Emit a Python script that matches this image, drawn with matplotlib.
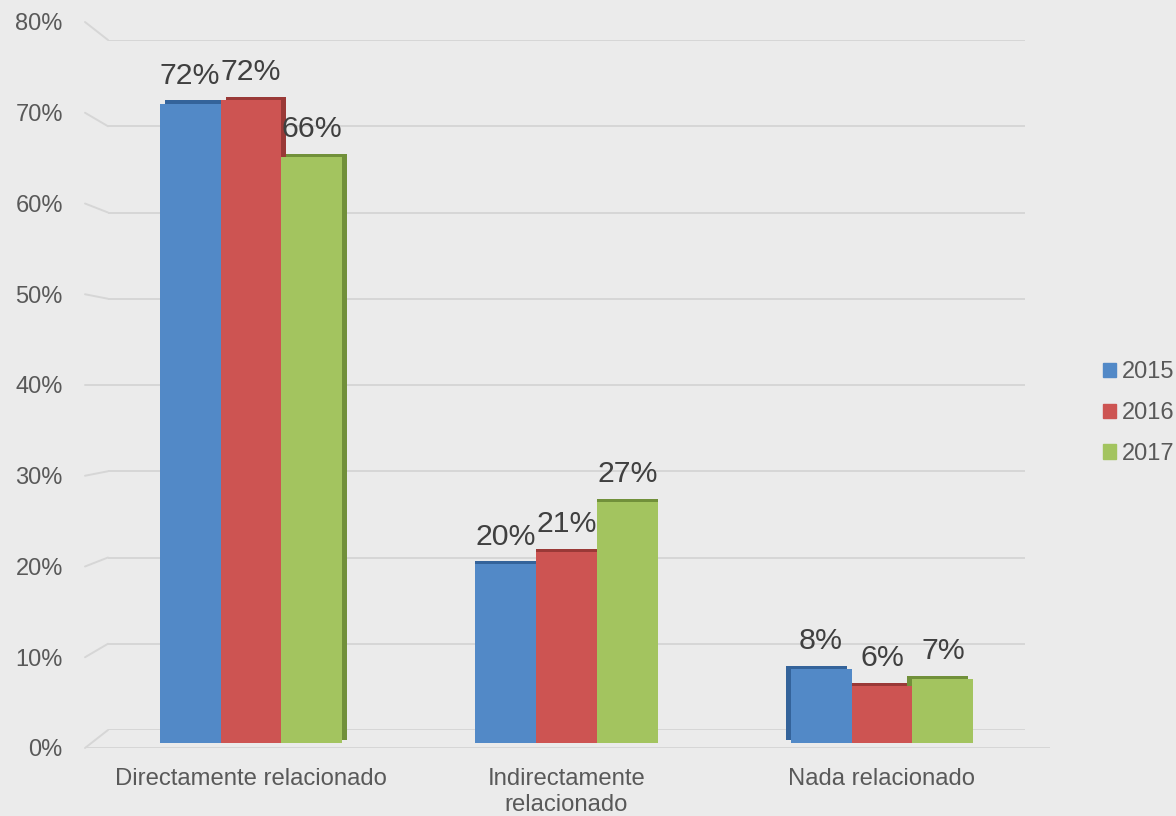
import matplotlib
matplotlib.use("Agg")
import matplotlib.pyplot as plt
from matplotlib.patches import Patch, ConnectionPatch
import numpy as np

# data
categories = ["Directamente relacionado", "Indirectamente\nrelacionado", "Nada relacionado"]
years = ["2015", "2016", "2017"]
v2015 = [71.6, 20.0, 8.3]
v2016 = [72.0, 21.4, 6.4]
v2017 = [65.6, 27.0, 7.2]
y_ticks = [0, 10, 20, 30, 40, 50, 60, 70, 80]

front_colors = ["#5289C7", "#CD5452", "#A3C45F"]
side_colors = ["#34639A", "#9A3937", "#71903A"]

plt.rcParams["font.family"] = ["Liberation Sans", "DejaVu Sans"]

W, H = 1176, 816
BG = "#EBEBEB"
GRID = "#D6D6D6"


def px_axes(fig, x0, y0, x1, y1, **kw):
    # rectangle given in pixels from the top-left corner
    return fig.add_axes([x0 / W, (H - y1) / H, (x1 - x0) / W, (y1 - y0) / H], **kw)


fig = plt.figure(figsize=(W / 100, H / 100), dpi=100, facecolor=BG)

# back wall with gridlines
ax_wall = px_axes(fig, 108, 40, 1025, 730)
ax_wall.set_ylim(0, 80)
ax_wall.set_xlim(0, 1)
ax_wall.axis("off")
for t in y_ticks:
    ax_wall.axhline(t, color=GRID, lw=1.4, zorder=0)

# axis labels / front floor
ax_lab = px_axes(fig, 85, 22, 1050, 748)
ax_lab.set_ylim(0, 80)
ax_lab.set_xlim(0, 1)
ax_lab.patch.set_visible(False)
for s in ax_lab.spines.values():
    s.set_visible(False)
ax_lab.set_xticks([])
ax_lab.set_yticks(y_ticks)
ax_lab.set_yticklabels([f"{t}%" for t in y_ticks])
ax_lab.tick_params(axis="y", length=0, pad=16, labelsize=17, labelcolor="#595959")
ax_lab.axhline(0, color=GRID, lw=1.4)

# perspective lines from the labels to the back wall
for t in y_ticks:
    con = ConnectionPatch(xyA=(0, t), coordsA=ax_lab.transData,
                          xyB=(0, t), coordsB=ax_wall.transData,
                          color=GRID, lw=1.4)
    fig.add_artist(con)

# bars
ax = px_axes(fig, 93.25, 28.6, 1039.75, 743)
ax.set_xlim(-0.5, 2.5)
ax.set_ylim(0, 80)
ax.patch.set_visible(False)
for s in ax.spines.values():
    s.set_visible(False)
ax.set_yticks([])

x = np.arange(len(categories))
width = 0.193
series = [v2015, v2016, v2017]
depth_x = 0.016 * (1 - x)
depth_y = 0.35

for i, vals in enumerate(series):
    pos = x + (i - 1) * width
    # pseudo 3D depth face
    ax.bar(pos + depth_x, vals, width, bottom=depth_y, color=side_colors[i], zorder=1)
for i, vals in enumerate(series):
    pos = x + (i - 1) * width
    bars = ax.bar(pos, vals, width, color=front_colors[i], zorder=2, label=years[i])
    for b, v in zip(bars, vals):
        ax.annotate(f"{v:.0f}%", (b.get_x() + b.get_width() / 2, v),
                    xytext=(0, 10), textcoords="offset points",
                    ha="center", va="bottom", fontsize=21.8, color="#404040", zorder=3)

ax.set_xticks(x)
ax.set_xticklabels(categories, linespacing=1.25)
ax.tick_params(axis="x", length=0, pad=18, labelsize=17.2, labelcolor="#595959")

handles = [Patch(color=c, label=y) for c, y in zip(front_colors, years)]
fig.legend(handles=handles, loc="center left", bbox_to_anchor=(1098 / W, 1 - 413 / H),
           frameon=False, fontsize=17, handlelength=0.55, handleheight=0.55,
           handletextpad=0.25, labelspacing=0.8, labelcolor="#595959",
           borderpad=0.2, borderaxespad=0.0)

fig.savefig("out.png", dpi=100, facecolor=BG)
